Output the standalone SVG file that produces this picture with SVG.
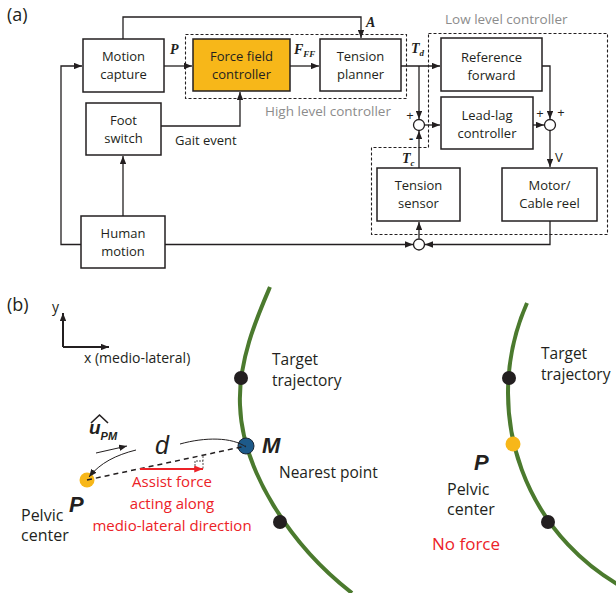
<svg xmlns="http://www.w3.org/2000/svg" width="616" height="593" viewBox="0 0 616 593">
<defs>
<style>
.box{fill:#fff;stroke:#231f20;stroke-width:1.5}
.t{font-family:"Open Sans","Liberation Sans",sans-serif;font-size:13px;fill:#231f20;text-anchor:middle}
.lbl{font-family:"Open Sans","Liberation Sans",sans-serif;font-size:13.5px;fill:#8c8c8c}
.ln{fill:none;stroke:#231f20;stroke-width:1.3;marker-end:url(#ah)}
.dash{fill:none;stroke:#231f20;stroke-width:1.1;stroke-dasharray:3 2}
.m{font-family:"Liberation Serif","Times New Roman",serif;font-weight:bold;font-style:italic;font-size:14px;fill:#231f20}
.sub{font-size:9px}
.j{fill:#fff;stroke:#231f20;stroke-width:1.3}
.sg{font-family:"Open Sans","Liberation Sans",sans-serif;font-size:13px;fill:#231f20;text-anchor:middle}
.b{font-family:"Open Sans","Liberation Sans",sans-serif;fill:#231f20}
.bi{font-family:"Liberation Sans",Arial,sans-serif;font-weight:bold;font-style:italic;fill:#231f20}
.red{font-family:"Open Sans","Liberation Sans",sans-serif;fill:#ec2227}
.traj{fill:none;stroke:#4b7a2e;stroke-width:4}
</style>
<marker id="ah" viewBox="0 0 10 8" refX="10" refY="4" markerWidth="8" markerHeight="6.5" orient="auto" markerUnits="userSpaceOnUse"><path d="M0,0 L10,4 L0,8 z" fill="#231f20"/></marker>
<marker id="ahr" viewBox="0 0 10 8" refX="10" refY="4" markerWidth="10" markerHeight="7" orient="auto" markerUnits="userSpaceOnUse"><path d="M0,0 L10,4 L0,8 z" fill="#ec2227"/></marker>
</defs>
<rect width="616" height="593" fill="#fff"/>

<!-- (a) -->
<text class="b" x="7" y="21" font-size="18">(a)</text>

<g id="high-level-controller">
<rect class="dash" x="185.5" y="34.5" width="221" height="64"/>
<text class="lbl" x="265" y="116">High level controller</text>
</g>
<g id="low-level-controller">
<path class="dash" d="M428.5,33.5 H607.5 V234.5 H371.5 V147.5 H428.5 Z"/>
<text class="lbl" x="445" y="24">Low level controller</text>
</g>

<g id="connectors">
<path class="ln" d="M123,39 V17 H361 V38"/>
<path class="ln" d="M164,66 H192"/>
<path class="ln" d="M290,66 H319"/>
<path class="ln" d="M401,66 H440"/>
<path class="ln" d="M419,66 V119"/>
<path class="ln" d="M424.5,125 H440"/>
<path class="ln" d="M419,168 V131"/>
<path class="ln" d="M533,125 H544"/>
<path class="ln" d="M542,66 H550 V119"/>
<path class="ln" d="M550,130.5 V167"/>
<path class="ln" d="M550,221 V244.5 H425"/>
<path class="ln" d="M165,244.5 H413"/>
<path class="ln" d="M419,238.5 V222"/>
<path class="ln" d="M123,216 V156"/>
<path class="ln" d="M81,244.5 H61 V66 H82"/>
<path class="ln" d="M161,126 H240 V92"/>
<text class="m" x="170" y="54">P</text>
<text class="m" x="294" y="54">F<tspan class="sub" dy="3">FF</tspan></text>
<text class="m" x="366" y="27">A</text>
<text class="m" x="411" y="53">T<tspan class="sub" dy="3">d</tspan></text>
<text class="m" x="402" y="163">T<tspan class="sub" dy="3">c</tspan></text>
<text class="sg" x="410" y="120">+</text>
<text class="sg" x="411" y="143" font-weight="bold">-</text>
<text class="sg" x="540" y="118">+</text>
<text class="sg" x="561" y="117">+</text>
<text class="b" x="555" y="162" font-size="13">V</text>
<text class="b" x="175" y="145" font-size="13">Gait event</text>
</g>

<g id="motion-capture"><rect class="box" x="83" y="39" width="81" height="53"/><text class="t" x="123.5" y="61">Motion</text><text class="t" x="123.5" y="79">capture</text></g>
<g id="force-field-controller"><rect class="box" x="193" y="39" width="97" height="52" style="fill:#f7b719"/><text class="t" x="241.5" y="61">Force field</text><text class="t" x="241.5" y="79">controller</text></g>
<g id="tension-planner"><rect class="box" x="320" y="39" width="81" height="52"/><text class="t" x="360.5" y="61">Tension</text><text class="t" x="360.5" y="79">planner</text></g>
<g id="foot-switch"><rect class="box" x="86" y="103" width="75" height="52"/><text class="t" x="123.5" y="125">Foot</text><text class="t" x="123.5" y="143">switch</text></g>
<g id="human-motion"><rect class="box" x="81" y="216" width="84" height="52"/><text class="t" x="123" y="238">Human</text><text class="t" x="123" y="256">motion</text></g>
<g id="reference-forward"><rect class="box" x="441" y="38" width="101" height="53"/><text class="t" x="491.5" y="62">Reference</text><text class="t" x="491.5" y="80">forward</text></g>
<g id="lead-lag-controller"><rect class="box" x="441" y="97" width="92" height="52"/><text class="t" x="487" y="120">Lead-lag</text><text class="t" x="487" y="138">controller</text></g>
<g id="tension-sensor"><rect class="box" x="377" y="168" width="83" height="53"/><text class="t" x="418.5" y="190">Tension</text><text class="t" x="418.5" y="208">sensor</text></g>
<g id="motor-cable-reel"><rect class="box" x="502" y="168" width="95" height="53"/><text class="t" x="549.5" y="190">Motor/</text><text class="t" x="549.5" y="208">Cable reel</text></g>
<g id="sum1"><circle class="j" cx="419" cy="125" r="5.5"/></g>
<g id="sum2"><circle class="j" cx="550" cy="125" r="5.5"/></g>
<g id="sum3"><circle class="j" cx="419" cy="244.5" r="5.5"/></g>

<!-- (b) -->
<text class="b" x="7" y="311" font-size="18">(b)</text>
<g id="axes">
<path class="ln" d="M63,347 V313" style="stroke-width:2"/>
<path class="ln" d="M63,347 H109" style="stroke-width:2"/>
<text class="b" x="52" y="312" font-size="14">y</text>
<text class="b" x="84" y="363" font-size="14">x (medio-lateral)</text>
</g>

<g id="trajectory-left">
<path class="traj" d="M270,287 C258,315 238,360 240,405 C242,470 290,545 352,593"/>
<circle cx="241" cy="378" r="7" fill="#231f20"/>
<circle cx="280" cy="522" r="7" fill="#231f20"/>
<text class="b" x="272" y="365" font-size="15.5">Target</text>
<text class="b" x="272" y="386" font-size="15.5">trajectory</text>
</g>

<g id="nearest-point">
<circle cx="246" cy="446" r="8" fill="#1d5a8a" stroke="#1a2633" stroke-width="1"/>
<text class="bi" x="262" y="453" font-size="22">M</text>
<text class="b" x="279" y="478" font-size="15.5">Nearest point</text>
</g>

<g id="pelvic-center-left">
<circle cx="87" cy="480" r="7.5" fill="#f7b719"/>
<text class="bi" x="69" y="512" font-size="22">P</text>
<text class="b" x="21" y="521" font-size="16">Pelvic</text>
<text class="b" x="21" y="541" font-size="16">center</text>
</g>

<g id="vectors">
<path d="M87,480 L246,446" fill="none" stroke="#231f20" stroke-width="1.5" stroke-dasharray="5 4"/>
<path d="M203,456 V469" fill="none" stroke="#231f20" stroke-width="0.8" stroke-dasharray="2 1.5"/>
<path d="M195,469 V461 H203" fill="none" stroke="#231f20" stroke-width="0.8" stroke-dasharray="2 1"/>
<path d="M140,469 H203" fill="none" stroke="#ec2227" stroke-width="2" marker-end="url(#ahr)"/>
<path d="M246,447 C232,437 205,437 180,444" fill="none" stroke="#231f20" stroke-width="1"/>
<path d="M136,450 C116,455 100,463 89,477" fill="none" stroke="#231f20" stroke-width="1" marker-end="url(#ah)"/>
<text x="155" y="454" font-family="Liberation Sans, Arial, sans-serif" font-style="italic" font-size="25" fill="#231f20">d</text>
<path d="M96,453 L127,446" fill="none" stroke="#231f20" stroke-width="1" marker-end="url(#ah)"/>
<polyline points="91,423 99.5,415 108,423" fill="none" stroke="#231f20" stroke-width="1.6"/>
<text class="bi" x="89" y="434" font-size="19">u<tspan font-size="11" dy="6">PM</tspan></text>
<text class="red" x="172" y="487" font-size="15" text-anchor="middle">Assist force</text>
<text class="red" x="172" y="509" font-size="15" text-anchor="middle">acting along</text>
<text class="red" x="172" y="531" font-size="15" text-anchor="middle">medio-lateral direction</text>
</g>

<g id="trajectory-right">
<path class="traj" d="M527,303 A222,222 0 0 0 634,593"/>
<circle cx="509" cy="378" r="7" fill="#231f20"/>
<circle cx="548" cy="522" r="7" fill="#231f20"/>
<text class="b" x="541" y="359" font-size="15.5">Target</text>
<text class="b" x="541" y="380" font-size="15.5">trajectory</text>
</g>

<g id="pelvic-center-right">
<circle cx="513" cy="444" r="7.5" fill="#f7b719"/>
<text class="bi" x="474" y="470" font-size="22">P</text>
<text class="b" x="447" y="495" font-size="16">Pelvic</text>
<text class="b" x="447" y="515" font-size="16">center</text>
<text class="red" x="432" y="550" font-size="17">No force</text>
</g>
</svg>
